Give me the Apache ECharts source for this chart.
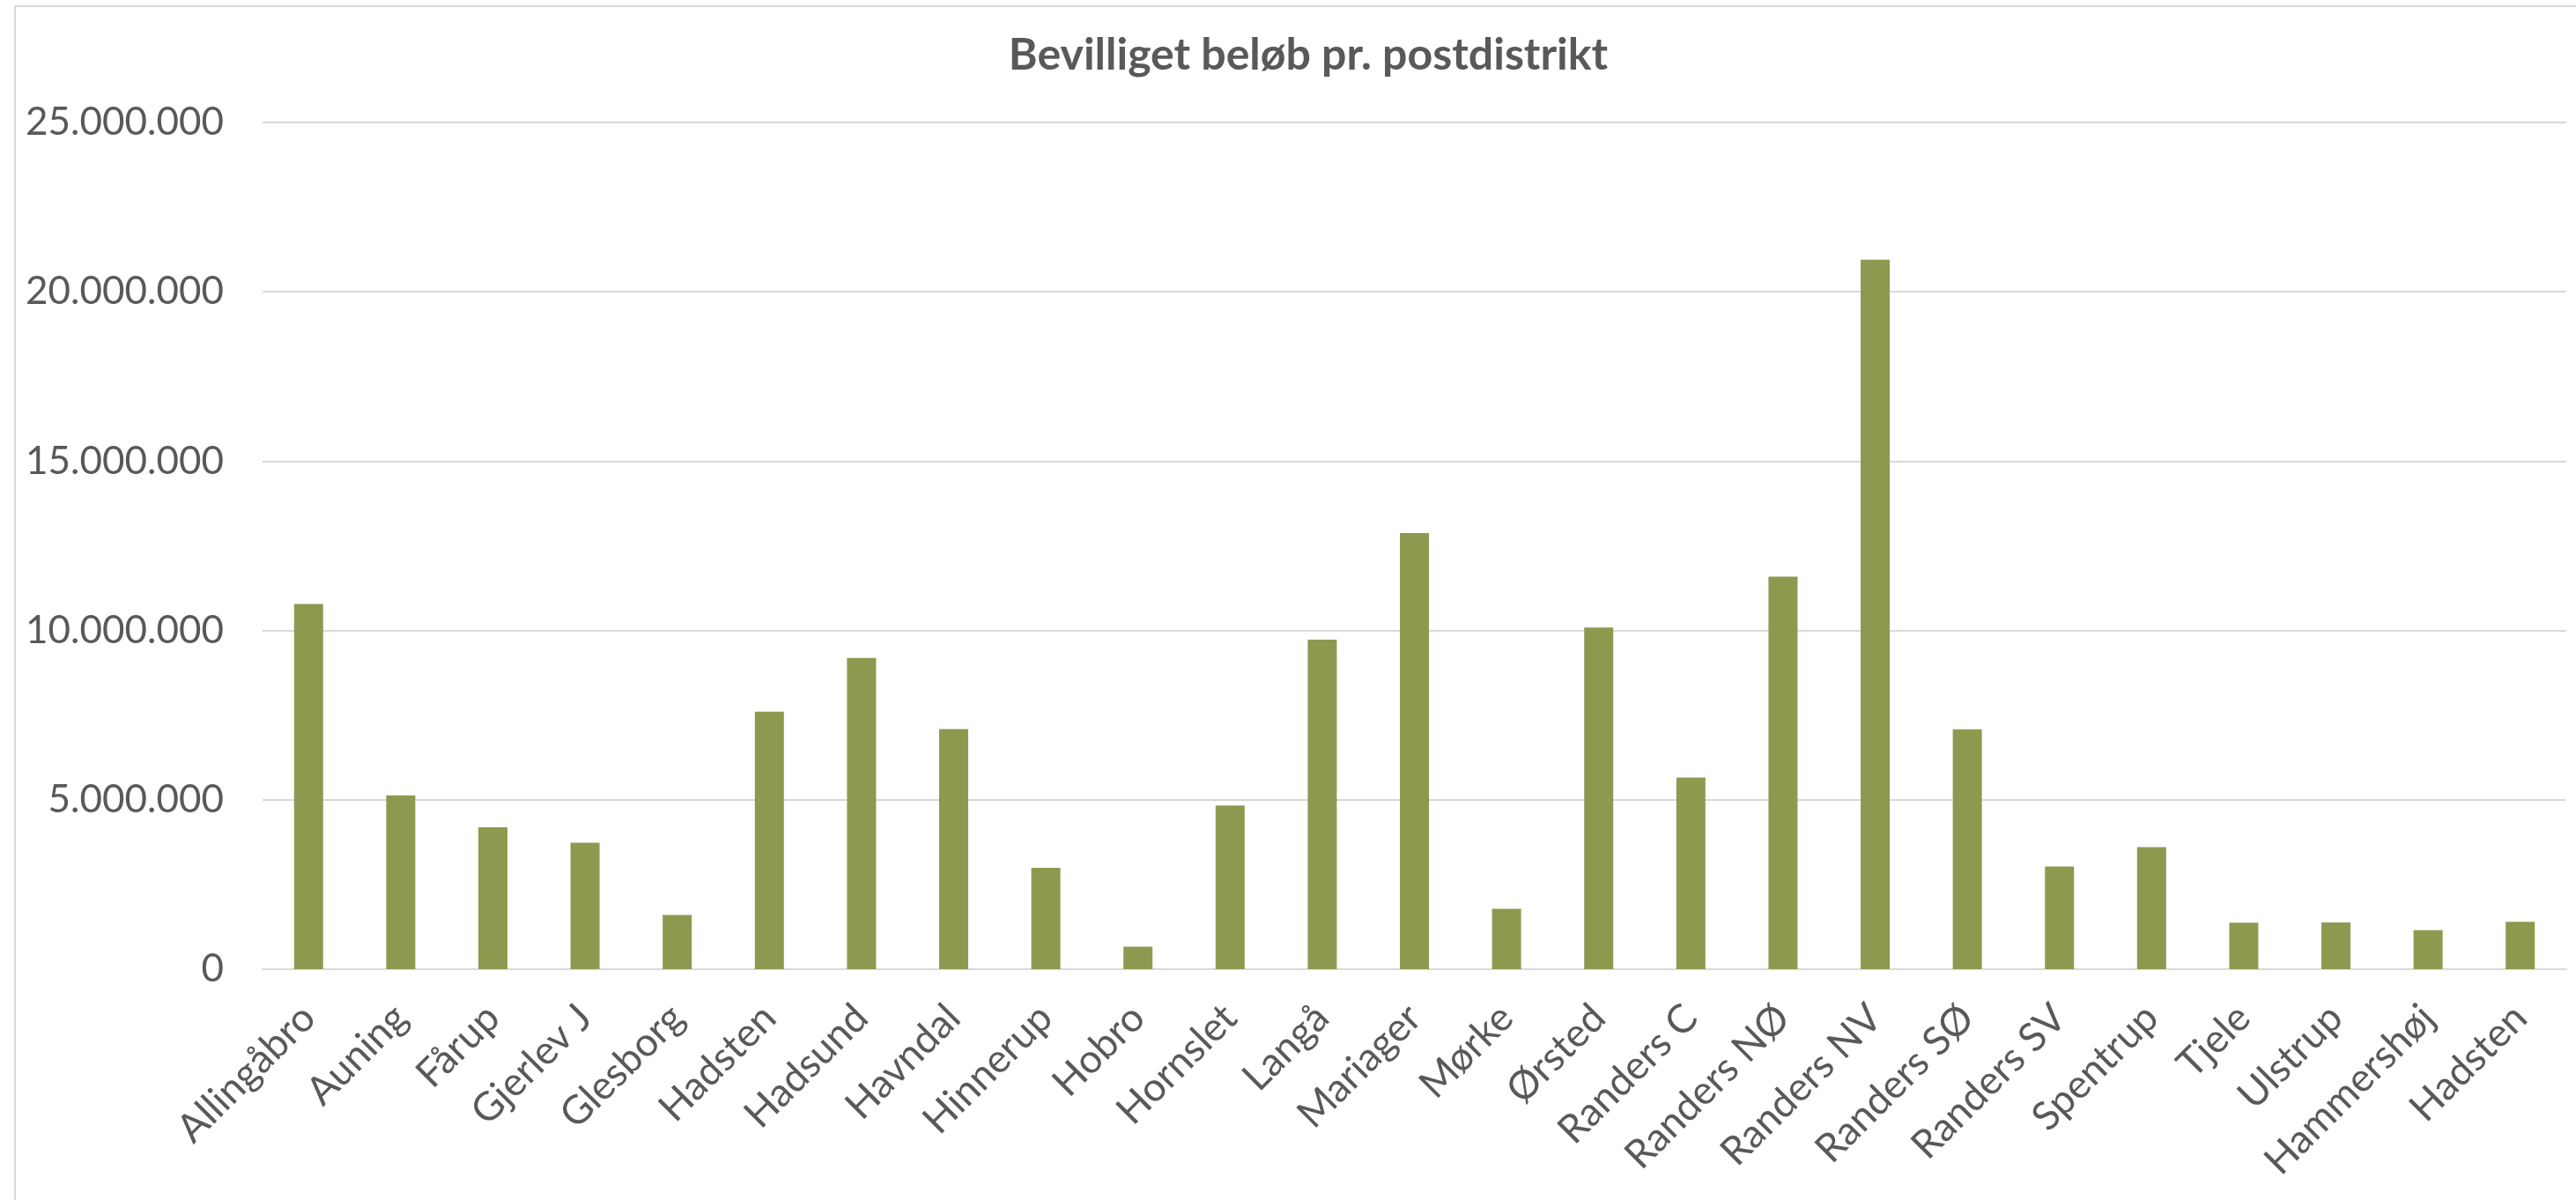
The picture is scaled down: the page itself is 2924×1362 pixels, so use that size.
<!DOCTYPE html>
<html>
<head>
<meta charset="utf-8">
<script src="https://cdn.jsdelivr.net/npm/echarts@6/dist/echarts.min.js"></script>
<style>
html,body{margin:0;padding:0;background:#fff;}
#chart{width:2924px;height:1362px;}
</style>
</head>
<body>
<div id="chart"></div>
<script>
const titleText = 'Bevilliget beløb pr. postdistrikt';
const categories = ['Allingåbro','Auning','Fårup','Gjerlev J','Glesborg','Hadsten','Hadsund','Havndal','Hinnerup','Hobro','Hornslet','Langå','Mariager','Mørke','Ørsted','Randers C','Randers NØ','Randers NV','Randers SØ','Randers SV','Spentrup','Tjele','Ulstrup','Hammershøj','Hadsten'];
const amounts = [10780000,5130000,4190000,3730000,1600000,7600000,9190000,7090000,2990000,665000,4830000,9730000,12880000,1780000,10090000,5660000,11590000,20950000,7080000,3030000,3600000,1370000,1380000,1150000,1400000];
const yTicks = [0,5000000,10000000,15000000,20000000,25000000];

function fmt(v){ return String(Math.round(v)).replace(/\B(?=(\d{3})+(?!\d))/g,'.'); }

const chart = echarts.init(document.getElementById('chart'), null, {renderer:'canvas'});
chart.setOption({
  animation:false,
  backgroundColor:'#ffffff',
  title:{
    text:titleText,
    left:1480, top:33, textAlign:'center',
    textStyle:{fontFamily:'Lato',fontWeight:'bold',fontSize:50,color:'#595959'}
  },
  graphic:[{
    type:'rect', silent:true, z:-1,
    shape:{x:17,y:7,width:3200,height:2000},
    style:{fill:'none',stroke:'#d9d9d9',lineWidth:2}
  }],
  grid:{left:298,right:11,top:139,bottom:262,containLabel:false},
  xAxis:{
    type:'category', data:categories,
    axisTick:{show:false},
    axisLine:{lineStyle:{color:'#d9d9d9',width:2}},
    axisLabel:{rotate:45, interval:0, margin:48, fontFamily:'Lato', fontSize:45, color:'#595959'}
  },
  yAxis:{
    type:'value', min:yTicks[0], max:yTicks[yTicks.length-1], interval:yTicks[1]-yTicks[0],
    axisLine:{show:false}, axisTick:{show:false},
    splitLine:{lineStyle:{color:'#d9d9d9',width:2}},
    axisLabel:{formatter:fmt, margin:44, fontFamily:'Lato', fontSize:44, color:'#595959'}
  },
  series:[{
    type:'bar', data:amounts, barWidth:33,
    itemStyle:{color:'#8e9950'}
  }]
});
</script>
</body>
</html>
